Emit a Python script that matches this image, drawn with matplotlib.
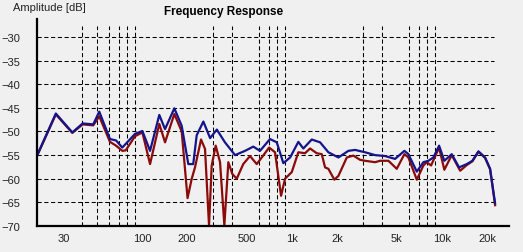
import numpy as np
import matplotlib.pyplot as plt
from matplotlib.ticker import FixedLocator, LogLocator, NullFormatter

# Frequency response
freq_blue = [20, 26.7, 34.4, 40.3, 47.4, 52, 61.3, 67.3, 74.1, 90.1, 100.8,
             113.4, 130.7, 142.7, 164.6, 184.3, 204, 220, 232, 257, 285,
             316, 358, 418, 487, 553, 613, 715, 793, 877, 973, 1104, 1192,
             1357, 1542, 1751, 2042, 2379, 2636, 3076, 3584, 4180, 4873,
             5622, 5977, 6802, 7524, 8124, 8775, 9573, 10378, 11630, 13010,
             14650, 15970, 17510, 19400, 20950, 22620]
db_blue = [-55.1, -46.2, -50.2, -48.3, -48.5, -45.8, -51.6, -51.9, -53.4,
           -50.5, -49.9, -54.1, -46.5, -49.5, -45.1, -48.8, -56.9, -56.9,
           -50.8, -47.9, -51.4, -49.6, -52.3, -55.0, -54.1, -53.2, -54.1,
           -51.6, -52.3, -56.7, -55.5, -52.2, -53.6, -51.7, -52.3, -54.4,
           -55.5, -54.1, -53.9, -54.4, -55.0, -55.2, -55.8, -54.1, -54.8,
           -58.5, -56.5, -56.2, -55.5, -53.0, -56.2, -54.8, -57.6, -56.9,
           -56.2, -54.2, -55.5, -57.9, -65.2]

freq_red = [20, 26.7, 34.4, 40.3, 47.4, 52, 61.3, 67.3, 74.1, 78, 90.1,
            100.8, 113.4, 130.7, 142.7, 164.6, 184.3, 201.6, 215, 226, 248,
            263.6, 280.3, 292.1, 310.6, 332, 354.7, 377, 401, 429, 474, 526,
            583, 630, 705, 772, 847, 900, 998, 1104, 1224, 1322, 1464, 1582,
            1664, 1751, 1919, 2042, 2323, 2570, 2848, 3076, 3584, 3870, 4400,
            5000, 5622, 5977, 6802, 7524, 7924, 8470, 9573, 10378, 11630,
            13230, 14650, 15970, 17510, 19400, 20950, 22620]
db_red = [-55.2, -46.4, -50.3, -48.5, -48.7, -46.8, -52.2, -53.0, -54.1,
          -54.0, -51.0, -50.2, -56.9, -48.4, -52.3, -46.3, -50.0, -64.1,
          -60.0, -57.6, -51.7, -53.7, -69.9, -57.2, -53.0, -56.5, -69.9,
          -56.5, -59.0, -60.0, -56.9, -55.2, -56.9, -55.5, -53.4, -54.4,
          -63.6, -60.0, -58.6, -54.4, -54.6, -53.6, -54.6, -54.8, -57.6,
          -57.9, -60.2, -59.4, -55.5, -55.1, -56.0, -56.2, -56.5, -56.2,
          -56.2, -57.9, -54.8, -55.5, -60.2, -57.2, -56.5, -57.2, -53.4,
          -58.1, -55.0, -58.3, -57.1, -56.3, -54.3, -55.6, -58.0, -65.6]

x_ticks = [30, 100, 200, 500, 1000, 2000, 5000, 10000, 20000]
x_labels = ['30', '100', '200', '500', '1k', '2k', '5k', '10k', '20k']
y_ticks = [-30, -35, -40, -45, -50, -55, -60, -65, -70]

bg = '#f0f0f0'
plt.rcParams['font.family'] = ['Liberation Sans', 'DejaVu Sans']

fig = plt.figure(figsize=(5.23, 2.53), dpi=100, facecolor=bg)
ax = fig.add_axes([37 / 523, 1 - 227 / 253, 472 / 523, 207 / 253])
ax.set_facecolor(bg)

ax.plot(freq_red, db_red, color='#8b0a0a', lw=1.6, zorder=3)
ax.plot(freq_blue, db_blue, color='#14148c', lw=1.6, zorder=4)

ax.set_xscale('log')
ax.set_xlim(20, 28000)
ax.set_ylim(-70, -26.2)

ax.xaxis.set_major_locator(FixedLocator(x_ticks))
ax.set_xticklabels(x_labels)
ax.xaxis.set_minor_locator(LogLocator(base=10, subs=np.arange(1, 10)))
ax.xaxis.set_minor_formatter(NullFormatter())
ax.set_yticks(y_ticks)

ax.tick_params(which='both', length=0, labelsize=8, colors='#222222')
ax.tick_params(axis='x', pad=5)
ax.tick_params(axis='y', pad=12)

# dashed grid: verticals stop a little under the top, horizontals before 22k
dash = (0, (4, 2.5))
for xv in ax.xaxis.get_minorticklocs():
    if 20 < xv < 28000:
        ax.axvline(xv, ymax=0.966, color='black', lw=0.75, linestyle=dash, zorder=1)
for yv in y_ticks:
    ax.axhline(yv, xmax=0.968, color='black', lw=0.75, linestyle=dash, zorder=1)

for s in ['top', 'right']:
    ax.spines[s].set_visible(False)
for s in ['left', 'bottom']:
    ax.spines[s].set_linewidth(1.6)
    ax.spines[s].set_zorder(5)

fig.text(13 / 523, 1 - 8 / 253, 'Amplitude [dB]', fontsize=8, color='#222222',
         ha='left', va='center')
fig.text(224 / 523, 1 - 12 / 253, 'Frequency Response', fontsize=8.5,
         fontweight='bold', ha='center', va='center')

fig.savefig('out.png', dpi=100, facecolor=bg)
